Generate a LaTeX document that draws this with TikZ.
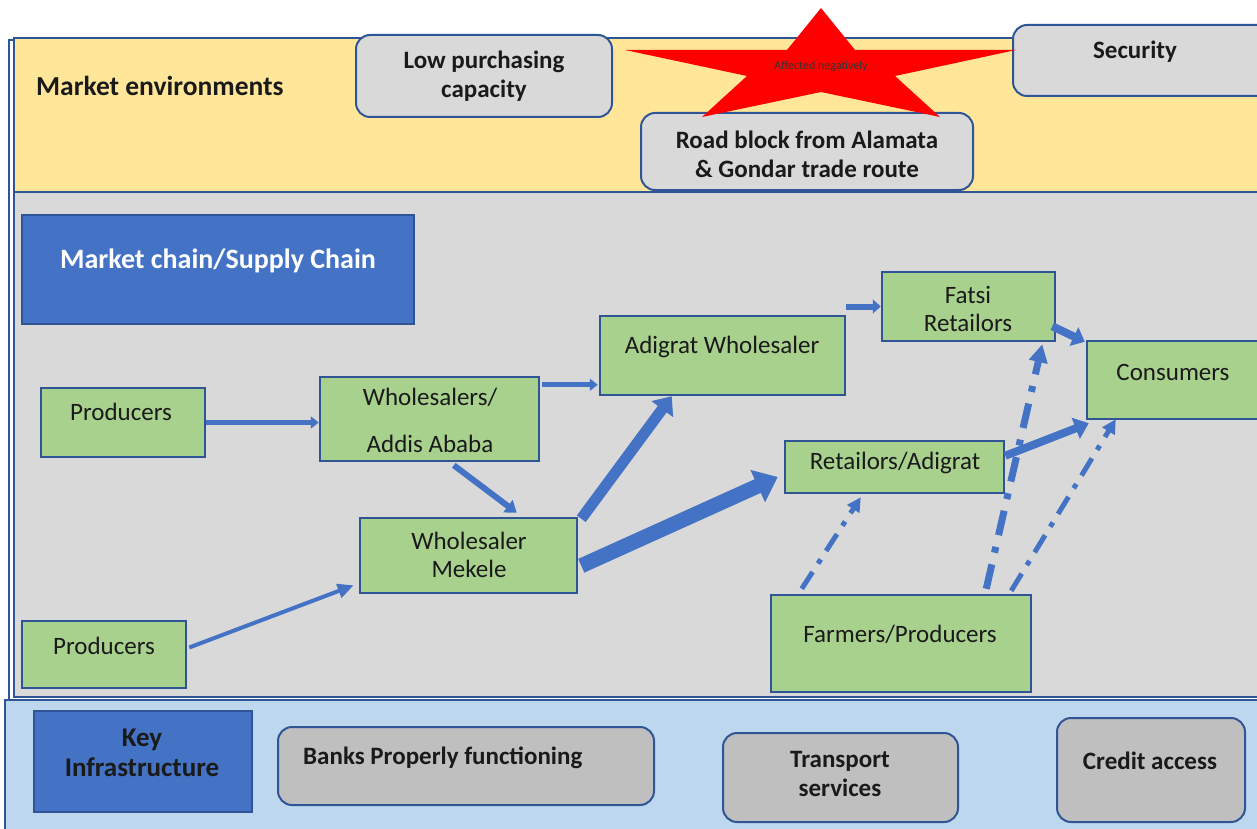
\documentclass[tikz,border=0pt]{standalone}
\usepackage{fontspec}
\setmainfont{Carlito}
\usetikzlibrary{arrows.meta,fit,calc}
\definecolor{envyel}{HTML}{FFE699}
\definecolor{chaingray}{HTML}{D9D9D9}
\definecolor{infblue}{HTML}{BDD7EE}
\definecolor{boxgreen}{HTML}{A9D18E}
\definecolor{darkblue}{HTML}{4472C4}
\definecolor{bdr}{HTML}{2F5597}
\definecolor{boxgray}{HTML}{BFBFBF}
\definecolor{txtc}{HTML}{1A1A1A}
\begin{document}
\begin{tikzpicture}[x=1pt,y=-1pt,
  band/.style={draw=bdr, line width=2pt, inner sep=0pt},
  gbox/.style={draw=bdr, fill=boxgreen, line width=2.5pt, inner sep=0pt},
  rbox/.style={draw=bdr, fill=chaingray, line width=2pt, rounded corners=14pt, inner sep=0pt},
  bbox/.style={draw=bdr, fill=darkblue, line width=2.5pt, inner sep=0pt},
  txt/.style={font=\fontsize{25}{28}\selectfont, align=center, inner sep=0pt, text=txtc},
  btxt/.style={font=\bfseries\fontsize{25}{29}\selectfont, align=center, inner sep=0pt, text=txtc},
  flow/.style={draw=darkblue, line cap=butt},
  dd/.style={draw=darkblue, line cap=butt, dash pattern=on 20pt off 10pt on 5pt off 10pt}
]
\useasboundingbox (0,0) rectangle (1257,829);
\fill[white] (0,0) rectangle (1257,829);

% bands
\node[band, draw=bdr, line width=1.5pt, fit={(9,40) (1262,700)}] (frame) {};
\node[band, fill=envyel, fit={(14,38) (1262,192)}] (env) {};
\node[band, fill=chaingray, fit={(14,192) (1262,697)}] (chain) {};
\node[band, fill=infblue, fit={(5,700) (1262,832)}] (infra) {};

% market environments
\node[btxt, font=\bfseries\fontsize{27.5}{30}\selectfont, anchor=west] (envlbl) at (36,86) {Market environments};
\node[rbox, fit={(356,35) (612,117)}] (lowpc) {};
\node[btxt] (lowpct) at (484,76) {Low purchasing\\capacity};
\node[rbox, fit={(1013,25) (1275,96)}] (sec) {};
\node[btxt] (sect) at (1135,52) {Security};
\node[rbox, fit={(641,113) (973,190)}] (road) {};
\node[btxt] (roadt) at (807,154) {Road block from Alamata\\\& Gondar trade route};
\fill[red] (821,8) -- (855,50) -- (1016,50) -- (895,76) -- (940,117) -- (821,92)
  -- (702,117) -- (747,76) -- (625,50) -- (787,50) -- cycle;
\node[inner sep=0pt, font=\fontsize{12}{13}\selectfont, text=black!80] (star) at (821,66) {Affected negatively};

% market chain
\node[bbox, fit={(22,215) (414,324)}] (mc) {};
\node[btxt, text=white, font=\bfseries\fontsize{28}{30}\selectfont] (mct) at (218,261) {Market chain/Supply Chain};

\node[gbox, fit={(41,388) (205,457)}] (p1) {};
\node[txt] (p1t) at (121,412) {Producers};
\node[gbox, fit={(320,377) (539,461)}] (wa) {};
\node[txt] (wat1) at (430,397) {Wholesalers/};
\node[txt] (wat2) at (430,444) {Addis Ababa};
\node[gbox, fit={(600,316) (845,395)}] (adw) {};
\node[txt] (adwt) at (722,347) {Adigrat Wholesaler};
\node[gbox, fit={(882,272) (1055,341)}] (fat) {};
\node[txt] (fatt) at (968,309) {Fatsi\\Retailors};
\node[gbox, fit={(1087,341) (1275,419)}] (cons) {};
\node[txt] (const) at (1173,372) {Consumers};
\node[gbox, fit={(785,441) (1004,493)}] (ret) {};
\node[txt] (rett) at (895,463) {Retailors/Adigrat};
\node[gbox, fit={(360,518) (577,593)}] (mek) {};
\node[txt] (mekt) at (469,555) {Wholesaler\\Mekele};
\node[gbox, fit={(22,621) (186,688)}] (p2) {};
\node[txt] (p2t) at (104,646) {Producers};
\node[gbox, fit={(771,595) (1031,692)}] (farm) {};
\node[txt] (farmt) at (900,634) {Farmers/Producers};

% arrows
\draw[flow, line width=5pt, -{Triangle[length=8pt, width=12pt]}] (p1.east) -- (wa.west |- p1.east);
\draw[flow, line width=5pt, -{Triangle[length=8pt, width=12pt]}] ($(wa.north east)+(2,9)$) -- ($(adw.west |- wa.north east)+(-1,9)$);
\draw[flow, line width=6pt, -{Triangle[length=8pt, width=14pt]}] (adw.east |- fat.east) -- (fat.west);
\draw[flow, line width=6pt, -{Triangle[length=11pt, width=15pt]}] ($(wa.south west)+(135,3)$) -- ($(mek.north west)+(158,-4)$);
\draw[flow, line width=11pt, -{Triangle[length=16pt, width=26pt]}] ($(mek.north east)+(3,2)$) -- ($(adw.south west)+(73,0)$);
\draw[flow, line width=15pt, -{Triangle[length=22pt, width=34pt]}] ($(mek.north east)+(3,49)$) -- ($(ret.west)+(-6,10)$);
\draw[flow, line width=4pt, -{Triangle[length=16pt, width=14pt]}] ($(p2.east)+(2,-7)$) -- ($(mek.south west)+(-5,-9)$);
\draw[flow, line width=8pt, -{Triangle[length=12pt, width=20pt]}] ($(fat.south east)+(-4,-16)$) -- ($(cons.north west)+(-1,2)$);
\draw[flow, line width=8pt, -{Triangle[length=14pt, width=22pt]}] ($(ret.north east)+(0,16)$) -- ($(cons.south west)+(3,3)$);
\draw[dd, line width=5pt, -{Triangle[length=14pt, width=14pt]}] ($(farm.north west)+(32,-5)$) -- ($(ret.south west)+(77,3)$);
\draw[dd, line width=7pt, dash pattern=on 25pt off 12pt on 6pt off 12pt, -{Triangle[length=18pt, width=18pt]}] ($(farm.north east)+(-46,-5)$) -- ($(fat.south east)+(-14,2)$);
\draw[dd, line width=5pt, -{Triangle[length=14pt, width=14pt]}] ($(farm.north east)+(-21,-3)$) -- ($(cons.south west)+(30,-1)$);

% key infrastructure
\node[bbox, fit={(34,711) (252,812)}] (key) {};
\node[btxt, font=\bfseries\fontsize{27}{30}\selectfont] (keyt) at (142,753) {Key\\Infrastructure};
\node[rbox, fill=boxgray, fit={(278,727) (654,805)}] (bank) {};
\node[btxt, anchor=west] (bankt) at (303,758) {Banks Properly functioning};
\node[rbox, fill=boxgray, fit={(723,733) (958,822)}] (trans) {};
\node[btxt] (transt) at (840,774) {Transport\\services};
\node[rbox, fill=boxgray, fit={(1057,718) (1245,822)}] (cred) {};
\node[btxt] (credt) at (1150,761) {Credit access};
\end{tikzpicture}
\end{document}
